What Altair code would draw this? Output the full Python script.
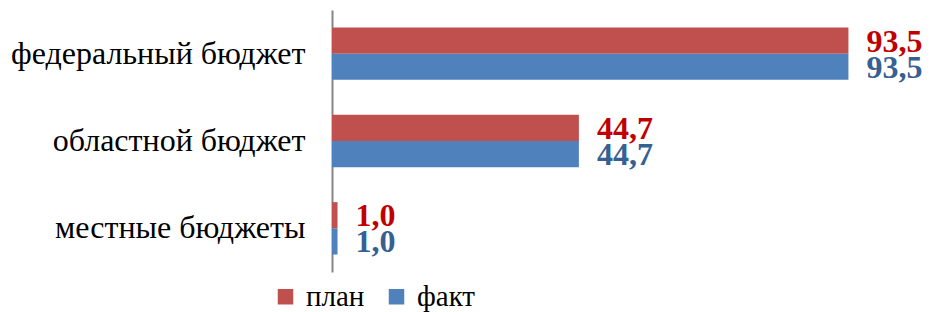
import altair as alt
import pandas as pd

categories = ["федеральный бюджет", "областной бюджет", "местные бюджеты"]
series = ["план", "факт"]
plan_values = [93.5, 44.7, 1.0]
fact_values = [93.5, 44.7, 1.0]
plan_labels = ["93,5", "44,7", "1,0"]
fact_labels = ["93,5", "44,7", "1,0"]

rows = []
for i, c in enumerate(categories):
    rows.append({"cat": c, "series": "план", "value": plan_values[i], "label": plan_labels[i]})
    rows.append({"cat": c, "series": "факт", "value": fact_values[i], "label": fact_labels[i]})
df = pd.DataFrame(rows)

FONT = "Liberation Serif, Times New Roman, serif"

color_scale = alt.Scale(domain=series, range=["#C0504D", "#4F81BD"])
y_enc = alt.Y("cat:N", sort=categories,
              scale=alt.Scale(paddingInner=0.4, paddingOuter=0.2),
              axis=alt.Axis(title=None, ticks=False, domainColor="#868686", domainWidth=2,
                            labelFont=FONT, labelFontSize=32, labelColor="#000000",
                            labelPadding=27, labelLimit=400, grid=False))
yoff = alt.YOffset("series:N", sort=series)
x_enc = alt.X("value:Q", scale=alt.Scale(domain=[0, 107], nice=False), axis=None)

bars = alt.Chart(df).mark_bar().encode(
    x=x_enc, y=y_enc, yOffset=yoff,
    color=alt.Color("series:N", scale=color_scale, sort=series,
                    legend=alt.Legend(title=None, orient="none", legendX=-61, legendY=272,
                                      direction="horizontal", symbolType="square", symbolSize=240,
                                      symbolStrokeWidth=0, labelFont=FONT,
                                      labelFontSize=29, labelColor="#000000", labelOffset=6,
                                      columnPadding=17, labelLimit=200))
)

text = alt.Chart(df).mark_text(align="left", baseline="middle", dx=18, dy=1,
                               font=FONT, fontSize=32, fontWeight="bold").encode(
    x=x_enc, y=alt.Y("cat:N", sort=categories), yOffset=yoff, text="label:N",
    color=alt.Color("series:N", scale=alt.Scale(domain=series, range=["#C00000", "#376092"]), legend=None)
)

chart = alt.layer(bars, text).resolve_scale(color="independent").properties(
    width=591, height=262,
    autosize=alt.AutoSizeParams(type="none"),
    padding={"left": 324, "top": 2, "right": 3, "bottom": 40}
).configure_view(stroke=None)

chart.save("out.html", embed_options={"renderer": "svg", "actions": False})
